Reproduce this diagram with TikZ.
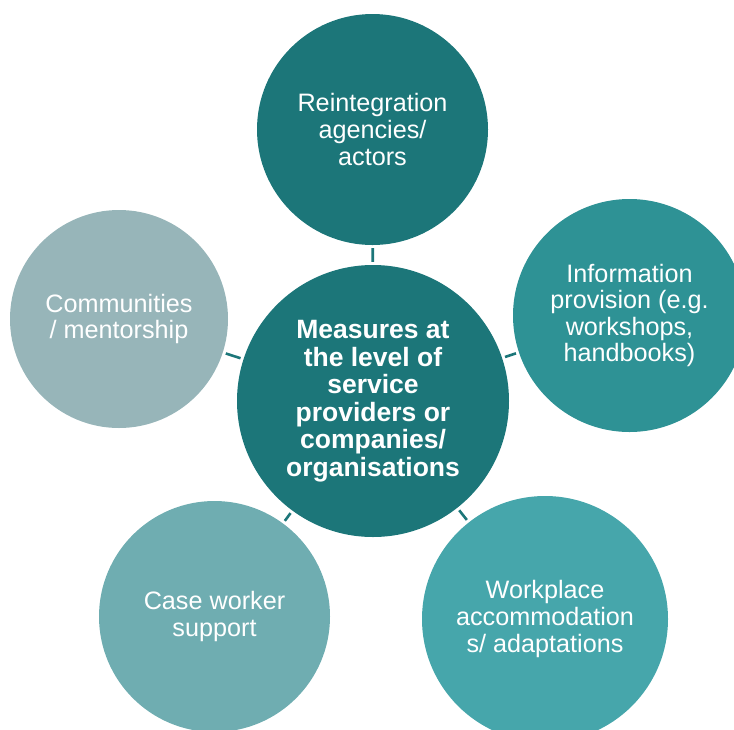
\documentclass[tikz,border=0pt]{standalone}
\usepackage{fontspec}
\setmainfont{Liberation Sans}
\definecolor{tealdark}{RGB}{28,118,121}
\definecolor{tealmid}{RGB}{46,146,149}
\definecolor{teallight}{RGB}{70,166,171}
\definecolor{tealsoft}{RGB}{111,173,177}
\definecolor{tealgrey}{RGB}{151,181,185}
\tikzset{
  bubble/.style={circle, draw=none, inner sep=0pt, align=center, text=white,
    font=\fontsize{25.2}{26.6}\selectfont},
  hub/.style={bubble, font=\fontsize{26.5}{27.5}\selectfont\bfseries},
  link/.style={draw=tealdark, line width=2.6pt, shorten <=3pt, shorten >=3pt}
}
\begin{document}
\begin{tikzpicture}[x=1pt, y=-1pt]
  \useasboundingbox (0,0) rectangle (734,729);
  \clip (0,0) rectangle (734,729);

  % central hub
  \node[hub, fill=tealdark, minimum size=272pt] (hub) at (373,401)
    {Measures at\\the level of\\service\\providers or\\companies/\\organisations};

  % surrounding measures
  \node[bubble, fill=tealdark, minimum size=231pt] (agencies) at (372.5,129.5)
    {Reintegration\\agencies/\\actors};
  \node[bubble, fill=tealmid, minimum size=233pt] (info) at (629.5,315.5)
    {Information\\provision (e.g.\\workshops,\\handbooks)};
  \node[bubble, fill=teallight, minimum size=246pt] (work) at (545,619)
    {Workplace\\accommodation\\s/ adaptations};
  \node[bubble, fill=tealsoft, minimum size=231pt] (case) at (214.5,616.5)
    {Case worker\\support};
  \node[bubble, fill=tealgrey, minimum size=218pt] (comm) at (119,319)
    {Communities\\/ mentorship};

  % short connectors between hub and each measure
  \draw[link] (hub) -- (agencies);
  \draw[link] (hub) -- (info);
  \draw[link] (hub) -- (work);
  \draw[link] (hub) -- (case);
  \draw[link] (hub) -- (comm);
\end{tikzpicture}
\end{document}
